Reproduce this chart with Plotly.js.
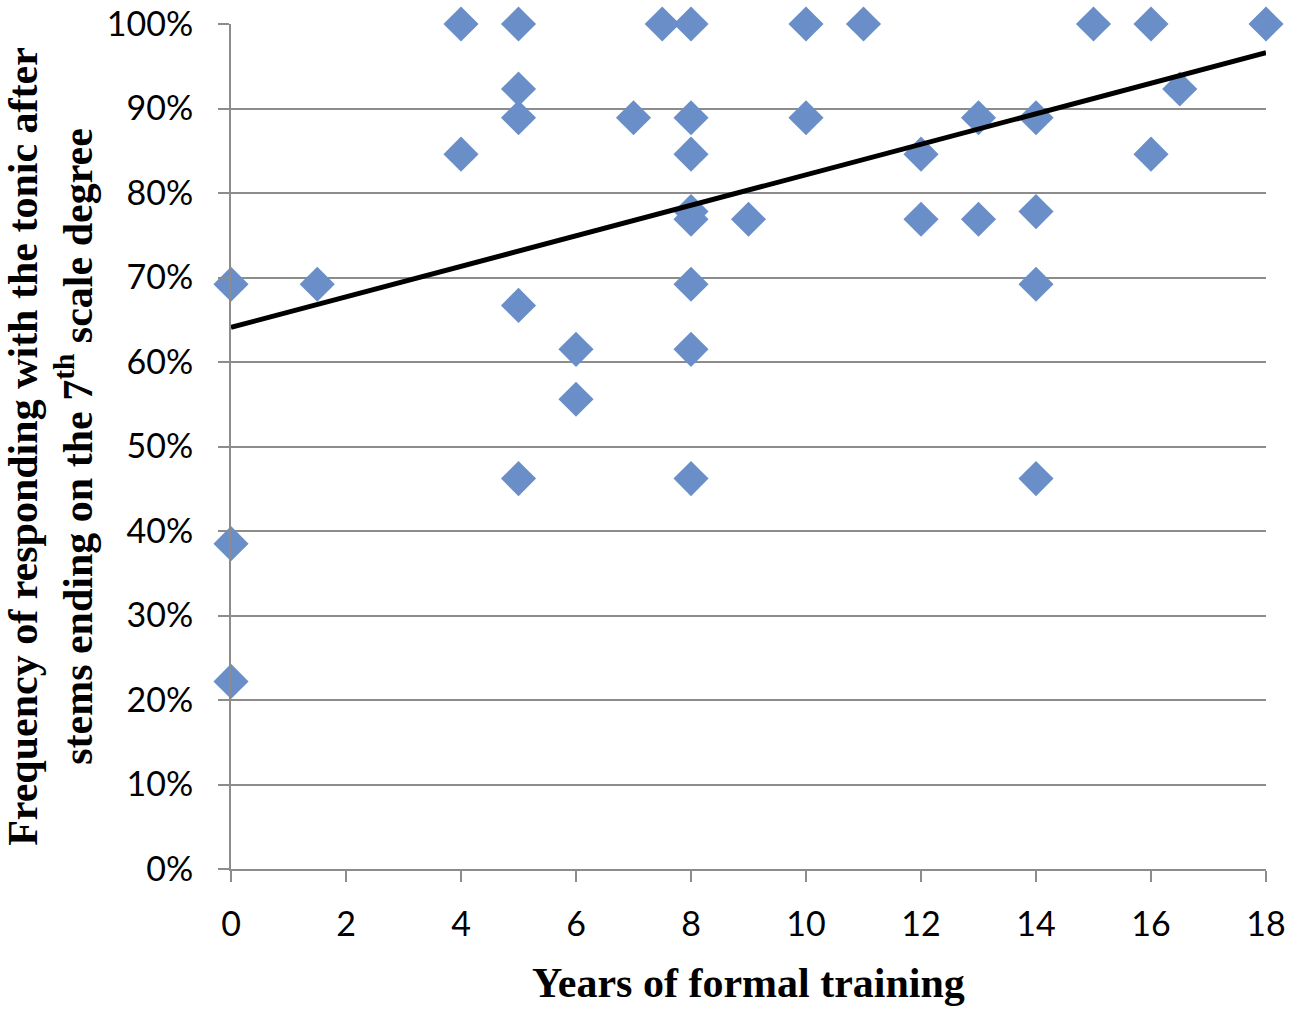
<!DOCTYPE html>
<html>
<head>
<meta charset="utf-8">
<script src="https://cdn.plot.ly/plotly-3.0.1.min.js"></script>
<style>
  html, body { margin: 0; padding: 0; background: #ffffff; }
  #chart { width: 1293px; height: 1013px; }
</style>
</head>
<body>
<div id="chart"></div>
<script>
// Years of formal training (x) and frequency of responding with the tonic (y)
const years = [0, 0, 0, 1.5, 4, 4, 5, 5, 5, 5, 5, 6, 6, 7, 7.5, 8, 8, 8, 8, 8, 8, 8, 8, 9, 10, 10, 11, 12, 12, 13, 13, 14, 14, 14, 14, 15, 16, 16, 16.5, 18];
const frequency = [0.692, 0.385, 0.222, 0.692, 1.0, 0.846, 1.0, 0.923, 0.889, 0.667, 0.462, 0.615, 0.556, 0.889, 1.0, 1.0, 0.889, 0.846, 0.778, 0.769, 0.692, 0.615, 0.462, 0.769, 1.0, 0.889, 1.0, 0.846, 0.769, 0.889, 0.769, 0.889, 0.778, 0.692, 0.462, 1.0, 1.0, 0.846, 0.923, 1.0];

// Linear trend line endpoints
const trendX = [0, 18];
const trendY = [0.641, 0.966];

// Axis ticks
const xTicks = [0, 2, 4, 6, 8, 10, 12, 14, 16, 18];
const yTicks = [0, 0.1, 0.2, 0.3, 0.4, 0.5, 0.6, 0.7, 0.8, 0.9, 1.0];
const yTickLabels = ['0%', '10%', '20%', '30%', '40%', '50%', '60%', '70%', '80%', '90%', '100%'];

const gridColor = '#8c8c8c';
const tickFont = { family: 'Lato, "Open Sans", sans-serif', size: 34, color: '#000000' };
const titleFont = { family: '"Liberation Serif", "Times New Roman", serif', size: 42, color: '#000000' };

const traces = [
  {
    type: 'scatter',
    mode: 'markers',
    x: years,
    y: frequency,
    cliponaxis: false,
    marker: { symbol: 'diamond', size: 27, color: '#6a8fc8', line: { width: 0 } },
    showlegend: false,
    hoverinfo: 'x+y'
  },
  {
    type: 'scatter',
    mode: 'lines',
    x: trendX,
    y: trendY,
    cliponaxis: false,
    line: { color: '#000000', width: 5 },
    showlegend: false,
    hoverinfo: 'skip'
  }
];

const layout = {
  width: 1293,
  height: 1013,
  paper_bgcolor: '#ffffff',
  plot_bgcolor: '#ffffff',
  margin: { l: 231, r: 27, t: 24, b: 144, pad: 0 },
  showlegend: false,
  xaxis: {
    range: [0, 18],
    tickvals: xTicks,
    ticktext: xTicks.map(String),
    showgrid: false,
    zeroline: false,
    showline: true,
    linecolor: gridColor,
    linewidth: 2,
    ticks: 'outside',
    ticklen: 11,
    tickwidth: 2,
    tickcolor: gridColor,
    tickfont: tickFont,
    ticklabelstandoff: 13,
    title: { text: '<b>Years of formal training</b>', font: titleFont, standoff: 26 },
    automargin: false
  },
  yaxis: {
    range: [0, 1],
    tickvals: yTicks,
    ticktext: yTickLabels,
    showgrid: true,
    gridcolor: gridColor,
    gridwidth: 2,
    zeroline: false,
    showline: true,
    linecolor: gridColor,
    linewidth: 2,
    ticks: 'outside',
    ticklen: 11,
    tickwidth: 2,
    tickcolor: gridColor,
    tickfont: tickFont,
    ticklabelstandoff: 18,
    title: {
      text: '<b>Frequency of responding with the tonic after<br>stems ending on the 7<sup>th</sup> scale degree</b>',
      font: titleFont,
      standoff: 10
    },
    automargin: false
  }
};

Plotly.newPlot('chart', traces, layout, { displayModeBar: false, staticPlot: true });
</script>
</body>
</html>
